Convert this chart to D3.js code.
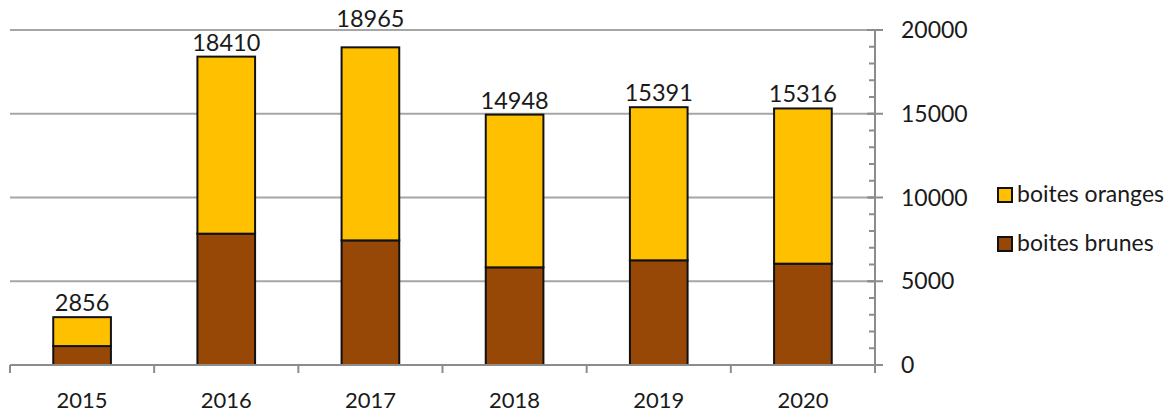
<!DOCTYPE html>
<html>
<head>
<meta charset="utf-8">
<script src="https://cdn.jsdelivr.net/npm/d3@7"></script>
<style>
  html, body { margin: 0; padding: 0; background: #fff; }
  svg { display: block; font-family: Lato, "Open Sans", sans-serif; }
</style>
</head>
<body>
<svg id="chart" width="1168" height="414"></svg>
<script>
// Annual counts of collected boxes, stacked by type
const years = ["2015", "2016", "2017", "2018", "2019", "2020"];
const brunes = [1130, 7840, 7440, 5830, 6250, 6050];
const totals = [2856, 18410, 18965, 14948, 15391, 15316];
const oranges = totals.map((t, i) => t - brunes[i]);
const yTicks = [0, 5000, 10000, 15000, 20000];
const seriesNames = ["boites oranges", "boites brunes"];
const seriesColors = ["#FFC000", "#974706"];

const svg = d3.select("#chart");
const plotLeft = 10, plotRight = 875, plotTop = 30, plotBottom = 365;

const x = d3.scaleBand().domain(years).range([plotLeft, plotRight]).paddingInner(0.6).paddingOuter(0.3);
const xb = d3.scaleBand().domain(years).range([plotLeft, plotRight]);
const y = d3.scaleLinear().domain([0, 20000]).range([plotBottom, plotTop]);

// horizontal gridlines
svg.append("g").selectAll("line").data(yTicks.filter(d => d > 0)).join("line")
  .attr("x1", plotLeft).attr("x2", plotRight)
  .attr("y1", d => y(d)).attr("y2", d => y(d))
  .attr("stroke", "#a6a6a6").attr("stroke-width", 2);

// stacked bars
const rows = years.map((yr, i) => ({ year: yr, brunes: brunes[i], oranges: oranges[i] }));
const stack = d3.stack().keys(["brunes", "oranges"])(rows);
const colorOf = { brunes: seriesColors[1], oranges: seriesColors[0] };

svg.append("g").selectAll("g").data(stack).join("g")
  .attr("fill", d => colorOf[d.key])
  .selectAll("rect").data(d => d).join("rect")
  .attr("x", d => x(d.data.year))
  .attr("width", x.bandwidth())
  .attr("y", d => y(d[1]))
  .attr("height", d => y(d[0]) - y(d[1]))
  .attr("stroke", "#111").attr("stroke-width", 2);

// total labels above bars; a label that would cross the top gridline sits above it
const labelSize = 23.5, labelGap = 6, capHeight = labelSize * 0.72;
const gridTopY = y(d3.max(yTicks));
svg.append("g").selectAll("text").data(years).join("text")
  .attr("x", d => x(d) + x.bandwidth() / 2)
  .attr("y", (d, i) => {
    const base = y(totals[i]) - labelGap;
    return base - capHeight < gridTopY + 2 ? gridTopY - 3 : base;
  })
  .attr("text-anchor", "middle")
  .attr("font-size", labelSize).attr("fill", "#1a1a1a")
  .text((d, i) => totals[i]);

// x axis
const xAxis = svg.append("g");
xAxis.append("line").attr("x1", plotLeft).attr("x2", plotRight).attr("y1", plotBottom).attr("y2", plotBottom)
  .attr("stroke", "#8c8c8c").attr("stroke-width", 2);
const boundaries = years.map(d => xb(d)).concat([plotRight]);
xAxis.selectAll("line.t").data(boundaries).join("line").attr("class", "t")
  .attr("x1", d => d).attr("x2", d => d).attr("y1", plotBottom).attr("y2", plotBottom + 8)
  .attr("stroke", "#8c8c8c").attr("stroke-width", 2);
xAxis.selectAll("text").data(years).join("text")
  .attr("x", d => xb(d) + xb.bandwidth() / 2)
  .attr("y", 408)
  .attr("text-anchor", "middle")
  .attr("font-size", 22).attr("fill", "#1a1a1a")
  .text(d => d);

// right-hand y axis with minor ticks
const yAxis = svg.append("g");
yAxis.append("line").attr("x1", plotRight).attr("x2", plotRight).attr("y1", plotTop).attr("y2", plotBottom + 6)
  .attr("stroke", "#8c8c8c").attr("stroke-width", 2);
yAxis.selectAll("line.minor").data(d3.range(0, 20001, 1000)).join("line").attr("class", "minor")
  .attr("x1", plotRight - 6).attr("x2", plotRight).attr("y1", d => y(d)).attr("y2", d => y(d))
  .attr("stroke", "#8c8c8c").attr("stroke-width", 2);
yAxis.selectAll("line.major").data(yTicks).join("line").attr("class", "major")
  .attr("x1", plotRight - 8).attr("x2", plotRight + 8).attr("y1", d => y(d)).attr("y2", d => y(d))
  .attr("stroke", "#8c8c8c").attr("stroke-width", 2);
yAxis.selectAll("text").data(yTicks).join("text")
  .attr("x", 901).attr("y", d => y(d) + 8)
  .attr("font-size", 23).attr("fill", "#1a1a1a")
  .text(d => d);

// legend
const legend = svg.append("g").selectAll("g").data(seriesNames).join("g")
  .attr("transform", (d, i) => `translate(998, ${188 + i * 49})`);
legend.append("rect").attr("width", 14).attr("height", 14)
  .attr("fill", (d, i) => seriesColors[i]).attr("stroke", "#111").attr("stroke-width", 2);
legend.append("text").attr("x", 19).attr("y", 14)
  .attr("font-size", 23).attr("fill", "#1a1a1a")
  .text(d => d);
</script>
</body>
</html>
